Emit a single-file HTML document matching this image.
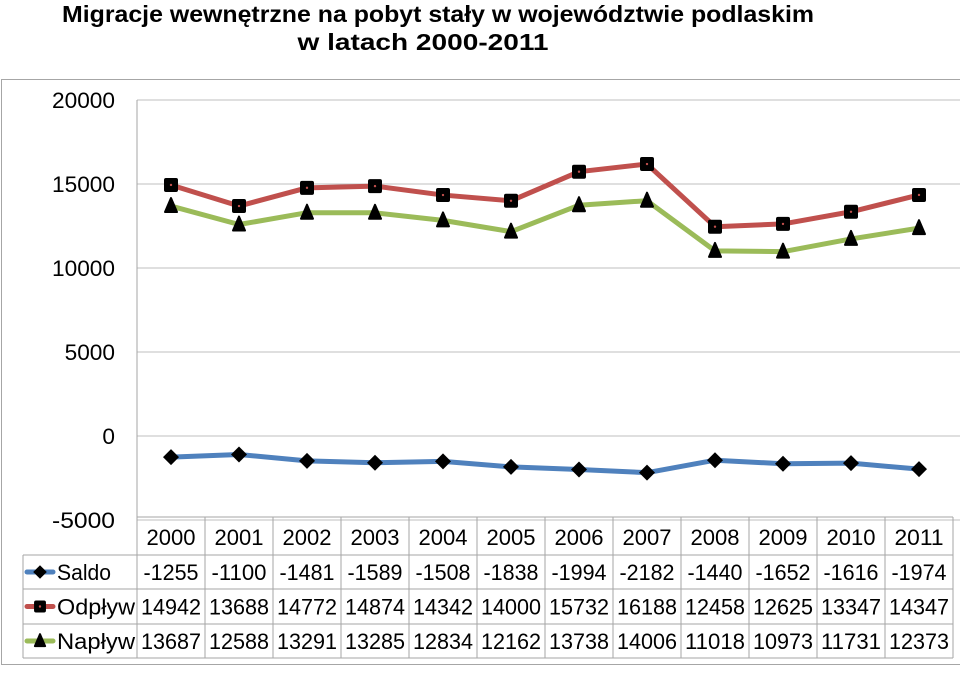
<!DOCTYPE html>
<html><head><meta charset="utf-8"><style>
body{margin:0;width:960px;height:669px;background:#fff;overflow:hidden;font-family:"Liberation Sans",sans-serif}
</style></head><body>
<svg width="960" height="669" xmlns="http://www.w3.org/2000/svg">
<rect x="1.5" y="79.5" width="965" height="585" fill="none" stroke="#a6a6a6"/>
<text x="438" y="22" text-anchor="middle" font-weight="bold" font-size="23" textLength="752" lengthAdjust="spacingAndGlyphs">Migracje wewnętrzne na pobyt stały w województwie podlaskim</text>
<text x="423" y="50" text-anchor="middle" font-weight="bold" font-size="23" textLength="251" lengthAdjust="spacingAndGlyphs">w latach 2000-2011</text>
<g id="grid"></g><g id="lines"></g><g id="table"></g>
</svg>
<script>
const years=["2000","2001","2002","2003","2004","2005","2006","2007","2008","2009","2010","2011"];
const saldo=[-1255,-1100,-1481,-1589,-1508,-1838,-1994,-2182,-1440,-1652,-1616,-1974];
const odplyw=[14942,13688,14772,14874,14342,14000,15732,16188,12458,12625,13347,14347];
const naplyw=[13687,12588,13291,13285,12834,12162,13738,14006,11018,10973,11731,12373];
const yTicks=[20000,15000,10000,5000,0,-5000];
const NS="http://www.w3.org/2000/svg";
const L=137,R=953,T=100,B=517,colW=(R-L)/12;
const y=v=>436-v*84/5000;
const x=i=>L+colW*(i+0.5);
function mk(tag,at,parent){const e=document.createElementNS(NS,tag);for(const k in at)e.setAttribute(k,at[k]);parent.appendChild(e);return e;}
const g=document.getElementById('grid'),ln=document.getElementById('lines'),tb=document.getElementById('table');
yTicks.forEach(v=>{
 const l=mk('line',{x1:L,x2:R+7,y1:y(v),y2:y(v),stroke:'#bfbfbf','stroke-width':1},g);
 
 
 const w=String(v).length*12.6;
 const t=mk('text',{x:115,y:y(v)+8,'text-anchor':'end','font-size':22,textLength:w,lengthAdjust:'spacingAndGlyphs'},g);t.textContent=v;
 
 
});
const ax=mk('line',{x1:L,x2:L,y1:T,y2:B,stroke:'#a6a6a6'},g);


const series=[{n:'Saldo',d:saldo,c:'#4f81bd',m:'diamond'},{n:'Odpływ',d:odplyw,c:'#c0504d',m:'square'},{n:'Napływ',d:naplyw,c:'#9bbb59',m:'triangle'}];
function marker(type,cx,cy,parent,s){
 s=s||1;let e;
 if(type==='diamond')e=mk('path',{d:`M${cx},${cy-8*s}L${cx+8*s},${cy}L${cx},${cy+8*s}L${cx-8*s},${cy}Z`,fill:'#000'},parent);
 else if(type==='square'){e=mk('rect',{x:cx-7*s,y:cy-7*s,width:14*s,height:14*s,rx:2,fill:'#000'},parent);mk('circle',{cx:cx,cy:cy,r:1.2,fill:'#c0504d'},parent);}
 else e=mk('path',{d:`M${cx},${cy-8*s}L${cx+6*s},${cy+6*s}L${cx-6*s},${cy+6*s}Z`,fill:'#000','stroke':'#000','stroke-width':2,'stroke-linejoin':'round'},parent);
 return e;
}
series.forEach(s=>{
 const p=mk('polyline',{points:s.d.map((v,i)=>x(i)+','+y(v)).join(' '),fill:'none',stroke:s.c,'stroke-width':5,'stroke-linejoin':'round'},ln);
 
 
 s.d.forEach((v,i)=>{const m=marker(s.m,x(i),y(v),ln);
  
  });
});
const rows=[517,555,589,624,658];
const tl='#a6a6a6';
rows.forEach((ry,k)=>{mk('line',{x1:k===0?L:23,x2:R,y1:ry,y2:ry,stroke:tl},tb);});
for(let i=0;i<=12;i++)mk('line',{x1:L+colW*i,x2:L+colW*i,y1:517,y2:658,stroke:tl},tb);
mk('line',{x1:23,x2:23,y1:555,y2:658,stroke:tl},tb);
years.forEach((yr,i)=>{const t=mk('text',{x:x(i),y:545,'text-anchor':'middle','font-size':22,textLength:49,lengthAdjust:'spacingAndGlyphs'},tb);t.textContent=yr;
 
 });
series.forEach((s,k)=>{
 const cy=(rows[k+1]+rows[k+2])/2;
 mk('line',{x1:27,x2:53,y1:cy,y2:cy,stroke:s.c,'stroke-width':5,'stroke-linecap':'round'},tb);
 const m=marker(s.m,40,cy,tb,0.85);
 
 
 const t=mk('text',{x:57,y:cy+8,'font-size':22,textLength:s.n==='Saldo'?54:78,lengthAdjust:'spacingAndGlyphs'},tb);t.textContent=s.n;
 
 
 s.d.forEach((v,i)=>{const c=mk('text',{x:x(i),y:cy+8,'text-anchor':'middle','font-size':22,textLength:v<0?55:60,lengthAdjust:'spacingAndGlyphs'},tb);c.textContent=v;
  
  });
});
</script>
</body></html>
